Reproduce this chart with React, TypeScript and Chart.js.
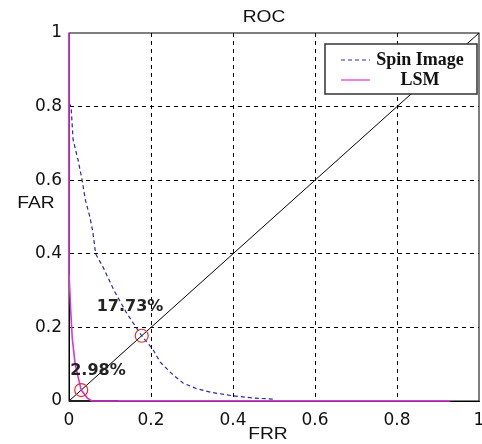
import React, { useEffect, useRef } from "react";
import { Chart, registerables } from "chart.js";

Chart.register(...registerables);

const TITLE = "ROC";
const X_LABEL = "FRR";
const Y_LABEL = "FAR";
const TICKS = [0, 0.2, 0.4, 0.6, 0.8, 1];

const spinLabel = "Spin Image";
const spinX = [0, 0.005, 0.01, 0.022, 0.032, 0.04, 0.051, 0.058, 0.065, 0.083, 0.11, 0.14, 0.1773, 0.19, 0.205, 0.222, 0.25, 0.278, 0.31, 0.344, 0.4, 0.45, 0.5];
const spinY = [0.81, 0.8, 0.71, 0.655, 0.6, 0.546, 0.5, 0.46, 0.4, 0.364, 0.3, 0.24, 0.1773, 0.16, 0.14, 0.106, 0.075, 0.049, 0.034, 0.024, 0.014, 0.008, 0.005];

const lsmLabel = "LSM";
const lsmX = [0, 0, 0.004, 0.008, 0.015, 0.0298, 0.045, 0.056, 0.93];
const lsmY = [1, 0.35, 0.25, 0.17, 0.1, 0.0298, 0.008, 0, 0];

const baseX = [0, 0.12];
const baseY = [0, 0];

const diagX = [0, 1];
const diagY = [0, 1];

const eerX = [0.1773, 0.0298];
const eerY = [0.1773, 0.0298];
const eerLabels = ["17.73%", "2.98%"];

const pts = (xs: number[], ys: number[]) => xs.map((x, i) => ({ x, y: ys[i] }));

const fmt = (v: number) => {
  if (Math.abs(v) < 1e-9) return "0";
  if (Math.abs(v - 1) < 1e-9) return "1";
  return v.toFixed(1);
};

const wideText = (ctx: any, t: string, x: number, y: number, sx: number) => {
  ctx.save();
  ctx.translate(x, y);
  ctx.scale(sx, 1);
  ctx.fillText(t, 0, 0);
  ctx.restore();
};

const overlay = {
  id: "overlay",
  beforeDatasetsDraw(chart: any) {
    const { ctx, chartArea: a } = chart;
    ctx.save();
    ctx.strokeStyle = "#000";
    ctx.lineWidth = 1;
    ctx.strokeRect(a.left, a.top, a.right - a.left, a.bottom - a.top);
    ctx.restore();
  },
  afterDraw(chart: any) {
    const { ctx, scales } = chart;
    const xs = scales.x;
    const ys = scales.y;
    ctx.save();
    ctx.fillStyle = "#111";
    ctx.font = '17px "Liberation Sans"';
    ctx.textAlign = "center";
    ctx.textBaseline = "middle";
    wideText(ctx, TITLE, 264, 17, 1.13);
    wideText(ctx, X_LABEL, 268, 434, 1.13);
    wideText(ctx, Y_LABEL, 36, 203, 1.13);

    // EER annotations
    ctx.font = 'bold 16px "DejaVu Sans"';
    ctx.textAlign = "left";
    ctx.fillStyle = "#222";
    const offs = [
      [-45, -29],
      [-11, -19],
    ];
    eerLabels.forEach((t, i) => {
      const px = xs.getPixelForValue(eerX[i]);
      const py = ys.getPixelForValue(eerY[i]);
      ctx.fillText(t, px + offs[i][0], py + offs[i][1]);
    });

    // Legend box
    const lx = 325, ly = 44, lw = 152, lh = 50;
    ctx.fillStyle = "#fff";
    ctx.fillRect(lx, ly, lw, lh);
    ctx.strokeStyle = "#333";
    ctx.lineWidth = 1.5;
    ctx.strokeRect(lx, ly, lw, lh);
    const items = chart.data.datasets
      .filter((d: any) => d.legendOrder !== undefined)
      .sort((p: any, q: any) => p.legendOrder - q.legendOrder);
    items.forEach((d: any, i: number) => {
      const y = 60 + i * 20;
      ctx.beginPath();
      ctx.strokeStyle = d.borderColor;
      ctx.lineWidth = 1.2;
      ctx.setLineDash(d.borderDash || []);
      ctx.moveTo(341, y);
      ctx.lineTo(370, y);
      ctx.stroke();
      ctx.setLineDash([]);
      ctx.fillStyle = "#111";
      ctx.font = 'bold 18px "Liberation Serif"';
      ctx.textAlign = "center";
      ctx.fillText(d.label, 420, y);
    });
    ctx.restore();
  },
};

const noPad = () => ({ left: 0, right: 0, top: 0, bottom: 0 });

export default function App() {
  const ref = useRef<HTMLCanvasElement | null>(null);
  useEffect(() => {
    document.body.style.margin = "0";
    if (!ref.current) return;
    const gridColor = (c: any) => {
      const v = c.tick ? c.tick.value : 0;
      return Math.abs(v) < 1e-9 || Math.abs(v - 1) < 1e-9 ? "rgba(0,0,0,0)" : "#000";
    };
    const chart = new Chart(ref.current, {
      type: "scatter",
      data: {
        datasets: [
          {
            label: "eer",
            data: pts(eerX, eerY),
            showLine: false,
            pointRadius: 6.5,
            pointStyle: "circle",
            backgroundColor: "rgba(0,0,0,0)",
            borderColor: "#e03030",
            pointBorderWidth: 1.2,
            clip: 10,
          },
          {
            label: lsmLabel,
            legendOrder: 1,
            data: pts(lsmX, lsmY),
            showLine: true,
            borderColor: "#d935d9",
            borderWidth: 1.6,
            pointRadius: 0,
            tension: 0,
            clip: 4,
          },
          {
            label: "base",
            data: pts(baseX, baseY),
            showLine: true,
            borderColor: "#222",
            borderWidth: 2,
            pointRadius: 0,
            clip: 4,
          },
          {
            label: spinLabel,
            legendOrder: 0,
            data: pts(spinX, spinY),
            showLine: true,
            borderColor: "#2828b0",
            borderWidth: 1.2,
            borderDash: [4, 3],
            pointRadius: 0,
            tension: 0,
            clip: 4,
          },
          {
            label: "diag",
            data: pts(diagX, diagY),
            showLine: true,
            borderColor: "#000",
            borderWidth: 1,
            pointRadius: 0,
            clip: 4,
          },
        ] as any,
      },
      options: {
        responsive: false,
        animation: false,
        layout: { autoPadding: false, padding: { top: 33, right: 3, left: 0, bottom: 0 } },
        plugins: {
          legend: { display: false },
          title: { display: false },
          tooltip: { enabled: false },
        },
        scales: {
          x: {
            type: "linear",
            min: 0,
            max: 1,
            afterBuildTicks: (s: any) => {
              s.ticks = TICKS.map((v) => ({ value: v }));
            },
            afterFit: (s: any) => {
              s.height = 43;
              s.paddingLeft = 0;
              s.paddingRight = 0;
              s.getPadding = noPad;
            },
            ticks: {
              padding: 9,
              color: "#111",
              font: { family: "DejaVu Sans", size: 17 },
              callback: (v: any) => fmt(Number(v)),
              maxRotation: 0,
            },
            grid: { color: gridColor, drawTicks: false, lineWidth: 1 },
            border: { display: true, color: "#000", dash: [4, 4] },
          },
          y: {
            type: "linear",
            min: 0,
            max: 1,
            afterBuildTicks: (s: any) => {
              s.ticks = TICKS.map((v) => ({ value: v }));
            },
            afterFit: (s: any) => {
              s.width = 69;
              s.paddingTop = 0;
              s.paddingBottom = 0;
              s.getPadding = noPad;
            },
            ticks: {
              padding: 7,
              color: "#111",
              font: { family: "DejaVu Sans", size: 17 },
              callback: (v: any) => fmt(Number(v)),
            },
            grid: { color: gridColor, drawTicks: false, lineWidth: 1 },
            border: { display: true, color: "#000", dash: [4, 4] },
          },
        },
      },
      plugins: [overlay],
    } as any);
    return () => chart.destroy();
  }, []);
  return <canvas ref={ref} width={482} height={444} style={{ display: "block" }} />;
}
